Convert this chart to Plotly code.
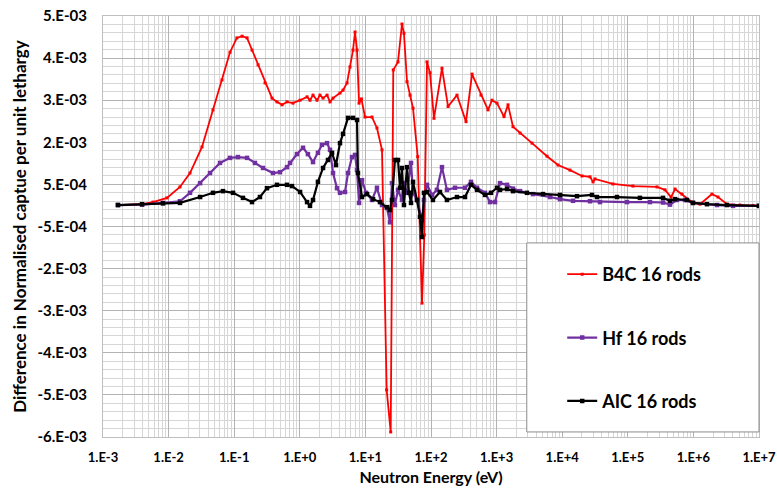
import plotly.graph_objects as go

# ---------------- data ----------------
b4c_energy = [1.69e-3, 3.94e-3, 5.78e-3, 9.46e-3, 0.0149, 0.0212, 0.0323, 0.0475, 0.0652, 0.0863,
              0.110, 0.132, 0.157, 0.187, 0.231, 0.295, 0.377, 0.449, 0.536, 0.638,
              0.787, 1.01, 1.29, 1.43, 1.59, 1.83, 2.03, 2.26, 2.60, 2.89,
              3.21, 4.10, 4.56, 5.25, 5.82, 6.47, 6.95, 7.45, 8.0, 8.7,
              9.86, 12.6, 15.0, 17.9, 21.1, 24.3, 26.6, 31.4, 36.1, 38.7,
              43.1, 47.9, 53.2, 62.7, 72.9, 79.1, 86.9, 96.6, 111, 147,
              182, 249, 342, 422, 578, 740, 851, 1014, 1297, 1493,
              1778, 2275, 3467, 5866, 8630, 13150, 20040, 26550, 29510, 31620,
              59430, 1.2e5, 2.79e5, 3.69e5, 4.56e5, 5.25e5, 6.7e5, 9.5e5, 1.26e6, 1.92e6,
              2.37e6, 3.25e6, 5.13e6, 8.1e6, 1.0e7]
b4c_diff = [0.01, 0.03, 0.08, 0.18, 0.44, 0.77, 1.39, 2.27, 2.98, 3.64,
            3.98, 4.02, 3.98, 3.69, 3.34, 2.91, 2.55, 2.46, 2.39, 2.46,
            2.43, 2.50, 2.58, 2.50, 2.62, 2.50, 2.62, 2.55, 2.62, 2.46,
            2.55, 2.67, 2.74, 2.91, 3.29, 3.69, 4.12, 3.69, 2.43, 2.53,
            2.10, 2.10, 1.84, 1.32, -4.38, -5.38, 3.22, 3.41, 4.31, 4.09,
            2.94, 2.62, 2.31, 1.16, -2.32, -0.70, 3.41, 3.15, 2.07, 3.26,
            2.35, 2.62, 1.99, 3.12, 2.62, 2.27, 2.50, 2.43, 2.11, 2.39,
            1.87, 1.72, 1.48, 1.17, 0.96, 0.84, 0.70, 0.68, 0.56, 0.63,
            0.51, 0.46, 0.44, 0.37, 0.20, 0.39, 0.27, 0.08, 0.03, 0.27,
            0.20, 0.03, 0.01, 0.00, -0.01]

hf_energy = [1.69e-3, 3.94e-3, 8.2e-3, 0.0149, 0.0212, 0.0302, 0.0428, 0.0608, 0.0863, 0.114,
             0.157, 0.207, 0.275, 0.390, 0.499, 0.638, 0.710, 0.905, 1.12, 1.33,
             1.59, 1.89, 2.18, 2.60, 2.89, 3.21, 3.69, 4.10, 4.89, 5.43,
             6.25, 6.95, 7.45, 8.0, 8.88, 10.2, 12.6, 15.0, 17.9, 21.3,
             23.7, 25.4, 28.2, 31.4, 36.1, 37.4, 43.1, 49.6, 53.2, 61.2,
             72.9, 78.2, 86.9, 104, 123, 147, 175, 232, 330, 407,
             503, 665, 793, 946, 1127, 1442, 1778, 2275, 3589, 6517,
             9253, 14630, 26550, 37700, 97200, 2.18e5, 3.44e5, 4.40e5, 5.62e5, 7.45e5,
             9.86e5, 2.29e6, 4.02e6, 1.0e7]
hf_diff = [0.01, 0.02, 0.06, 0.10, 0.30, 0.53, 0.77, 1.01, 1.13, 1.15,
           1.13, 1.01, 0.89, 0.77, 0.79, 0.91, 1.01, 1.22, 1.37, 1.22,
           1.03, 1.25, 1.44, 1.48, 1.32, 0.77, 0.41, 0.30, 0.32, 0.77,
           1.15, 1.20, 0.84, 0.06, 0.60, 0.30, 0.13, 0.42, 0.01, -0.06,
           -0.40, 0.53, 0.01, 0.37, 0.13, 0.53, 0.30, 1.01, 0.30, 0.13,
           -0.35, 0.13, 0.49, 0.25, 0.37, 0.91, 0.37, 0.42, 0.42, 0.56,
           0.42, 0.30, 0.08, 0.08, 0.53, 0.49, 0.40, 0.34, 0.27, 0.20,
           0.15, 0.11, 0.10, 0.08, 0.08, 0.08, 0.07, 0.02, 0.13, 0.13,
           0.06, 0.01, -0.01, -0.01]

aic_energy = [1.69e-3, 3.94e-3, 8.2e-3, 0.0149, 0.0302, 0.0475, 0.0674, 0.0960, 0.136, 0.187,
              0.247, 0.316, 0.449, 0.638, 0.760, 1.01, 1.29, 1.43, 1.59, 1.89,
              2.26, 2.69, 3.10, 3.56, 4.10, 4.56, 5.43, 6.47, 7.45, 7.7,
              8.88, 10.6, 13.1, 16.7, 21.3, 23.7, 25.4, 28.2, 31.4, 33.7,
              36.1, 38.7, 43.1, 46.2, 49.6, 53.2, 61.2, 68.0, 72.9, 78.2,
              86.9, 107, 137, 175, 249, 330, 407, 503, 665, 822,
              1014, 1127, 1442, 1778, 2904, 5094, 9253, 16820, 28440, 33900,
              68400, 1.53e5, 3.44e5, 4.40e5, 5.25e5, 7.98e5, 9.86e5, 1.61e6, 3.25e6, 1.0e7]
aic_diff = [0.01, 0.03, 0.05, 0.06, 0.20, 0.30, 0.34, 0.30, 0.18, 0.08,
            0.20, 0.41, 0.49, 0.49, 0.46, 0.32, 0.08, -0.01, 0.13, 0.56,
            0.89, 1.08, 1.25, 0.96, 1.48, 1.70, 2.08, 2.08, 2.03, 0.77,
            0.20, 0.27, 0.15, 0.08, -0.04, -0.11, 0.13, 1.08, 1.08, 0.42,
            0.89, 0.01, 0.91, 0.30, 0.06, 0.56, 0.13, -0.27, -0.75, 0.30,
            0.32, 0.13, 0.32, 0.13, 0.20, 0.20, 0.49, 0.37, 0.25, 0.30,
            0.42, 0.37, 0.39, 0.34, 0.30, 0.27, 0.25, 0.22, 0.25, 0.20,
            0.20, 0.18, 0.18, 0.11, 0.15, 0.13, 0.06, 0.03, 0.01, -0.01]

scale = 1e-3  # values above are in units of 1e-3

y_tick_values = [-5.5e-3, -4.5e-3, -3.5e-3, -2.5e-3, -1.5e-3, -0.5e-3, 0.5e-3, 1.5e-3, 2.5e-3, 3.5e-3, 4.5e-3]
y_tick_labels = ["-6.E-03", "-5.E-03", "-4.E-03", "-3.E-03", "-2.E-03", "-5.E-04",
                 "5.E-04", "2.E-03", "3.E-03", "4.E-03", "5.E-03"]
x_tick_values = [1e-3, 1e-2, 1e-1, 1e0, 1e1, 1e2, 1e3, 1e4, 1e5, 1e6, 1e7]
x_tick_labels = ["1.E-3", "1.E-2", "1.E-1", "1.E+0", "1.E+1", "1.E+2", "1.E+3",
                 "1.E+4", "1.E+5", "1.E+6", "1.E+7"]

FONT = "Lato, 'Open Sans', sans-serif"

fig = go.Figure()
fig.add_trace(go.Scatter(
    x=b4c_energy, y=[v * scale for v in b4c_diff], name="B4C 16 rods",
    mode="lines+markers", legendgroup="a",
    line=dict(color="#FF0000", width=1.8),
    marker=dict(symbol="square", size=3, color="#FF0000")))
fig.add_trace(go.Scatter(
    x=hf_energy, y=[v * scale for v in hf_diff], name="Hf 16 rods",
    mode="lines+markers", legendgroup="b",
    line=dict(color="#7030A0", width=2.2),
    marker=dict(symbol="square", size=4.5, color="#7030A0")))
fig.add_trace(go.Scatter(
    x=aic_energy, y=[v * scale for v in aic_diff], name="AIC 16 rods",
    mode="lines+markers", legendgroup="c",
    line=dict(color="#000000", width=2.2),
    marker=dict(symbol="square", size=4.5, color="#000000")))

# legend box
fig.add_shape(type="rect", xref="paper", yref="paper", x0=0.646, x1=1.0, y0=0.012, y1=0.461,
              line=dict(color="#8C8C8C", width=1), fillcolor="white", layer="above")

fig.update_layout(
    width=777, height=490, autosize=False,
    margin=dict(l=103, r=18, t=16, b=53),
    paper_bgcolor="white", plot_bgcolor="white",
    font=dict(family=FONT, size=13, color="#000000", weight="bold"),
    showlegend=True,
    legend=dict(x=0.70, y=0.43, xanchor="left", yanchor="top",
                bgcolor="rgba(0,0,0,0)", borderwidth=0,
                font=dict(family=FONT, size=18, color="#000000", weight="bold"),
                tracegroupgap=37, itemwidth=30),
)
fig.update_xaxes(
    type="log", range=[-3, 7], automargin=False,
    tickmode="array", tickvals=x_tick_values, ticktext=x_tick_labels,
    ticks="", ticklabelstandoff=8,
    showgrid=True, gridcolor="#B3B3B3", gridwidth=1,
    minor=dict(dtick="D1", showgrid=True, gridcolor="#D6D6D6", gridwidth=1, ticks=""),
    showline=True, linecolor="#BFBFBF", linewidth=1, mirror=True,
    zeroline=False,
    tickfont=dict(family=FONT, size=13, weight="bold"),
    title=dict(text="Neutron Energy (eV)", standoff=8,
               font=dict(family=FONT, size=16, weight="bold")),
)
fig.update_yaxes(
    range=[-5.5e-3, 4.5e-3], automargin=False,
    tickmode="array", tickvals=y_tick_values, ticktext=y_tick_labels,
    ticks="", ticklabelstandoff=12,
    showgrid=True, gridcolor="#B3B3B3", gridwidth=1,
    minor=dict(tick0=-5.5e-3, dtick=0.2e-3, showgrid=True, gridcolor="#D6D6D6", gridwidth=1, ticks=""),
    showline=True, linecolor="#BFBFBF", linewidth=1, mirror=True,
    zeroline=False,
    tickfont=dict(family=FONT, size=15, weight="bold"),
    title=dict(text="Difference in Normalised captue per unit lethargy", standoff=6,
               font=dict(family=FONT, size=17, weight="bold")),
)

fig.write_html("out.html", config={"displayModeBar": False},
               post_script="document.body.style.margin='0';document.body.style.padding='0';")
